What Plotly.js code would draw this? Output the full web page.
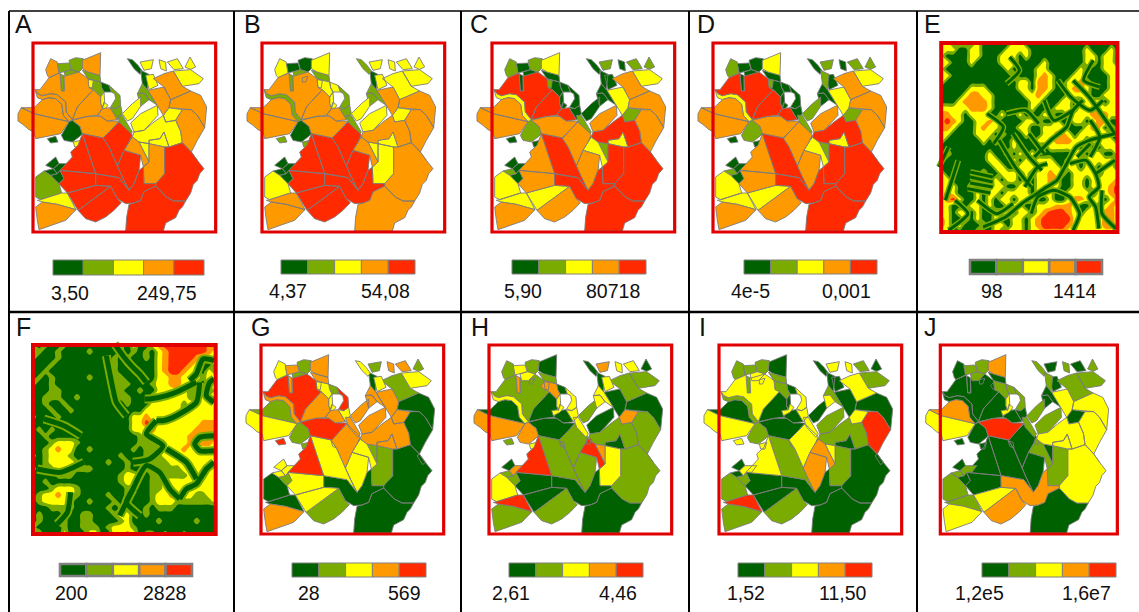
<!DOCTYPE html>
<html><head><meta charset="utf-8">
<script src="https://cdn.plot.ly/plotly-3.0.1.min.js"></script>
<style>html,body{margin:0;padding:0;background:#fff}</style></head>
<body><div id="chart" style="width:1139px;height:612px"></div>
<script>
// ---------- region outlines (map units) ----------
const regionOutlines = [
/*r1*/[52,340,62,322,100,340,205,364,180,400,145,408,105,415,100,395,85,388,70,375,52,362],
/*r2*/[62,322,100,322,115,308,125,298,145,292,165,295,183,312,188,345,205,364,100,340],
/*r3*/[103,268,112,280,125,286,150,280,170,283,195,305,197,335,215,358,205,364,188,345,183,312,165,295,145,292,125,298,110,292],
/*r4*/[103,268,118,268,145,232,178,218,182,272,192,272,190,228,235,215,262,235,265,262,278,268,230,320,215,358,197,335,195,305,170,283,150,280,125,286,112,280],
/*r5*/[278,268,300,290,300,310,305,325,290,345,262,348,215,358,230,320],
/*r6*/[215,360,262,348,300,348,320,362,355,362,310,413,245,400,238,378],
/*r7*/[290,345,305,325,328,322,350,358,320,362,300,348],
/*r9*/[307,413,355,365,395,403,385,425,370,450,350,497,325,440],
/*r10*/[245,400,307,413,325,440,350,497,365,530,385,570,355,532,285,520],
/*r11*/[245,400,285,520,178,510,215,470,210,455,232,435],
/*r12*/[350,497,370,450,420,465,415,510,400,550,385,570,365,530],
/*r13*/[385,425,395,410,415,425,445,485,428,500,420,465,370,450],
/*r14*/[430,550,428,500,445,485,445,430,492,440,492,520,465,550],
/*r15*/[285,520,355,532,385,570,400,550,415,510,428,500,430,550,465,550,465,557,430,574,420,600,400,608,375,610,350,595,330,558,285,555],
/*r16*/[465,550,492,520,492,440,505,440,545,427,572,455,590,480,610,505,597,520,590,540,578,552,570,578,555,602,520,602,497,590,480,572,465,557],
/*r17*/[375,692,378,650,385,612,400,608,420,600,430,574,465,557,480,572,497,590,520,602,555,602,545,620,535,630,525,652,495,668,488,692],
/*r18*/[178,510,285,520,285,555,200,578,175,550,190,535],
/*r19*/[200,578,285,555,330,558,232,630],
/*r20*/[232,630,330,558,350,595,362,607,340,630,315,650,285,665,255,655],
/*r21*/[105,530,130,512,150,525,175,550,183,578,120,598,105,590],
/*r22*/[110,600,120,598,183,578,200,578,226,628,170,612,125,605],
/*r23*/[105,620,125,605,170,612,226,628,195,660,150,675,115,688,110,660],
/*r24a*/[135,495,165,470,175,490,158,505],
/*r24b*/[158,505,175,490,210,490,195,510,178,510,170,520],
/*r24c*/[130,512,158,505,170,520,150,525],
/*r24d*/[150,525,170,520,178,510,190,535,175,550,168,545],
/*r25*/[182,405,205,364,215,360,238,378,245,400,235,410,215,425,190,420],
/*r26*/[140,415,165,408,172,425,150,428],
/*r27*/[218,425,240,420,235,440,222,440],
/*r28*/[245,180,300,157,298,225,262,215,245,205],
/*r29*/[135,208,150,175,170,185,170,190,175,218,145,232,140,225],
/*c1*/[170,190,205,188,212,208,190,215,175,218],
/*c2*/[205,180,225,172,248,175,245,205,235,215,212,208],
/*c3*/[190,215,212,208,235,215,215,235,195,235],
/*c4*/[178,220,190,226,190,272,182,272],
/*c5*/[218,232,235,228,228,245,218,245],
/*k1*/[245,210,262,215,298,225,300,245,270,238,262,235],
/*k2*/[252,250,265,238,278,240,275,262,262,262],
/*k3*/[300,245,325,255,332,275,310,275,303,262],
/*k4*/[325,255,345,275,358,285,360,315,345,325,330,320,345,295,342,280,332,275],
/*k5*/[285,325,305,322,310,305,322,315,310,330,290,340],
/*e32*/[380,175,395,178,412,195,425,212,418,222,400,205],
/*e33*/[418,185,458,178,452,205,430,210],
/*e34*/[420,210,445,222,440,268,425,250],
/*e35*/[475,178,495,185,497,212,480,205],
/*e36*/[500,185,530,175,548,205,520,208],
/*e37*/[553,200,568,170,585,200,570,207],
/*e38*/[518,212,570,208,608,235,595,250,545,258],
/*e39*/[458,235,490,220,518,212,545,258,570,272,510,298,490,260],
/*e40*/[510,298,570,272,600,285,618,320,612,382,590,345,572,328,545,325,505,322],
/*e41*/[545,328,572,328,590,345,612,382,590,420,572,455,545,427,540,393,525,360],
/*e42*/[488,345,505,322,545,328,525,360,495,365],
/*e43*/[400,395,430,390,460,365,488,345,495,365,525,360,540,393,545,427,505,440,490,395,478,415,445,420,445,430,415,425,395,410],
/*e44*/[445,420,478,415,490,395,505,440,492,440,445,430],
/*e45*/[390,368,420,340,470,315,472,345,430,390,400,395],
/*e46*/[365,340,395,310,420,290,420,318,395,355,380,362],
/*e47*/[410,280,430,278,445,298,420,318],
/*e48*/[442,270,490,260,510,298,505,322,488,345,470,315],
/*e49*/[435,225,458,222,472,255,445,268],
/*e50*/[350,345,365,345,395,395,388,405,360,375],
/*e51*/[390,410,405,410,400,425,388,425],
/*e52*/[415,425,445,430,445,485],
/*e53*/[572,455,590,480,582,487,565,460],
/*e54*/[307,415,322,420,325,438,312,432],
/*k6*/[262,235,270,238,300,245,303,262,310,275,300,290,278,268,265,262],
/*k7*/[300,290,310,275,312,305,305,325,300,310],
/*k8*/[328,322,345,325,360,315,365,340,350,358],
/*n1*/[425,250,440,268,442,270,470,315,445,298,430,278,410,280]
];
// ---------- class (1..5) of each region in each map ----------
const classA=[4,4,4,4,4,4,4, 5,5,5,5,4,4,5, 5,5,5,5,5,2,3,4, 1,1,1,1, 1,1,3,4,4, 2,2,2,2,3, 2,3,1,2,3, 1,3,1,3,3,3,3, 4,4,4,3,3,3,3, 3,2,4,3,2,2,3,1,4, 2,3,2,2];
const classB=[4,4,2,4,4,4,4, 5,5,5,5,4,3,5, 4,4,5,5,5,3,4,4, 1,1,1,1, 1,2,2,3,3, 1,1,2,2,4, 2,3,3,2,3, 2,3,1,3,3,3,3, 3,4,4,3,4,3,3, 3,2,4,3,2,2,3,2,4, 3,3,2,2];
const classC=[4,4,3,5,5,4,5, 4,5,4,4,3,5,5, 5,5,4,3,4,3,3,4, 1,1,2,1, 2,1,1,3,2, 1,2,1,1,1, 1,2,1,1,1, 1,2,1,1,2,2,3, 4,4,4,2,5,3,4, 1,1,3,1,2,1,2,2,2, 1,1,1,1];
const classD=[4,4,3,5,5,4,5, 4,5,4,4,3,5,5, 5,5,4,3,4,3,3,4, 1,1,2,1, 2,1,1,3,2, 1,1,1,1,1, 1,2,1,1,1, 1,2,2,1,2,2,3, 4,4,4,2,5,3,4, 2,1,3,1,2,1,2,2,1, 1,1,1,1];
const classG=[3,2,4,5,4,5,4, 4,3,5,3,3,2,1, 1,1,3,3,2,1,1,4, 3,3,3,2, 2,5,2,4,3, 4,2,2,4,2, 4,3,2,5,3, 3,2,1,4,4,2,3, 2,1,1,4,4,4,4, 4,4,4,3,4,2,2,1,3, 3,3,3,4];
const classH=[4,1,3,2,1,1,1, 2,2,5,2,5,3,1, 2,1,1,1,2,3,5,2, 1,4,2,2, 4,2,3,1,2, 3,2,3,4,2, 2,4,1,3,3, 1,4,1,3,3,1,2, 2,1,2,4,2,1,1, 2,3,1,3,3,5,4,1,2, 4,3,3,3];
const classI=[3,1,2,3,1,1,1, 3,2,3,4,4,2,1, 1,1,1,1,2,2,5,2, 1,3,1,2, 2,3,3,1,2, 2,2,3,2,3, 2,1,1,3,3, 1,3,1,3,2,1,2, 3,1,5,3,2,1,2, 1,3,1,1,3,1,3,1,2, 2,1,3,2];
const classJ=[3,4,1,1,1,5,1, 1,1,1,1,2,2,4, 3,1,1,3,4,2,2,3, 1,2,2,1, 1,1,1,4,1, 2,2,2,1,1, 1,1,2,2,3, 2,1,2,2,1,2,2, 2,3,3,1,3,3,2, 2,1,3,1,2,2,1,1,1, 2,3,1,1];

// ---------- raster maps E and F: class read per cell ----------
const gridE=[
"331331311111331111111111111111",
"333113311113333111111111311131",
"311113311133313111111111331331",
"331113111133311113111111331331",
"311111111113111133111113111333",
"331111111111311134311133111133",
"311111111111133144311334311133",
"111113331111133144311344311133",
"111134433111113343111333311333",
"111344443111111331113311333133",
"333334443111111311133313343333",
"443313331131131113311333344433",
"454311334311113331131133134411",
"443111343311133113333111344131",
"331111333131113113344313333411",
"311111131311311133344433133331",
"111111111111311111333331311333",
"131111113113131311111133133113",
"311111113311313133311331333331",
"111111111331133313331331331331",
"311111131133313133433133331333",
"331111131313313133441133133334",
"333113131331133133431133133345",
"343111313313333133311333313345",
"345311313133133311311344333134",
"331113313113331133344431131343",
"331331311333133134555431333443",
"431131311311331345555533333443",
"431311131331331345555433333443",
"331111311313331334444333333333"];
const gridF=[
"212112111111112131134555555544",
"221121111211112121213455555543",
"211121111111121211213455554333",
"111211111111121211113455543113",
"112111111111121121113455433131",
"121211111211122111113344333233",
"211211111111122211123344332133",
"111221111111122112113333322213",
"112221121111122211133333322333",
"112112111111111211133333233333",
"111211211111111111333333233333",
"211121111111111133433333333333",
"111111111111111133543333333444",
"121211111111111133343333334444",
"112111111111111112333333344444",
"111233321111111112223333344443",
"112343311211111121222333433333",
"212333211111112111222333333333",
"112333321111211211222233333333",
"212233322211111211222222333333",
"111122211111112332122222233333",
"112111111111112331122333333333",
"111233321111111211122343333333",
"123343321111211211123343332233",
"123333211211121111123332222223",
"111222211111212111212221111111",
"121112112211123311211111111111",
"121122112211112311112111112111",
"211112112221233321111111111111",
"231113111331133431221211211111"];
// drainage lines visible on the raster maps (map units)
const riversE=[
[387,585,417,565,457,540,487,490,517,440,557,420,637,400],
[387,585,347,610,297,650,227,680],
[497,490,547,480,577,520,587,560,557,590,577,620,587,685],
[577,520,637,480],
[377,640,397,590,447,570,497,590,527,640,507,690],
[597,570,597,640,640,685],
[537,300,507,330,487,380,437,420,387,470],
[507,240,557,290,637,400],
[427,490,397,500,357,560],
[187,515,257,530],[187,530,257,545],[187,548,257,560],[180,565,250,578],
[277,420,327,500,377,560],[320,400,370,470,410,510],[370,400,417,460],
[140,600,180,640,120,690],[210,600,270,640,320,610],
[417,300,447,360,507,330],[460,240,500,290,560,330,600,300],
[560,360,590,410,560,470],[400,370,360,330,300,340],[240,340,290,380,260,430],
[520,470,560,430],[120,440,90,500],[150,480,110,600],
[570,180,540,240,590,260],[310,170,340,210,300,250]
];
const riversF=[
[437,240,417,215,392,190,367,160,342,125],
[587,240,537,265,497,280,447,290,432,290],
[597,240,587,300,527,340,487,355,467,355],
[640,175,607,170,587,215,567,235],
[640,300,617,280,627,240,640,230],
[640,400,597,405,582,425,597,445,640,445],
[640,480,617,500,587,545,557,560,537,590],
[537,590,507,560,477,510,437,490,397,560],
[467,355,437,395,487,430,447,470,397,480],
[497,440,557,480,587,530],
[377,340,347,300,337,260,317,160],
[397,560,377,600,417,640],[397,560,357,640],
[210,570,200,630,170,665],[110,500,180,510,250,480],
[130,350,190,370,240,400]
];

// ---------- labels ----------
const panelLetters=["A","B","C","D","E","F","G","H","I","J"];
const lowLabels=["3,50","4,37","5,90","4e-5","98","200","28","2,61","1,52","1,2e5"];
const highLabels=["249,75","54,08","80718","0,001","1414","2828","569","4,46","11,50","1,6e7"];

// ---------- styling & layout (pixels) ----------
const classColors=["#006100","#7aab00","#ffff00","#ff9900","#ff2a00"];
const W=1139,H=612;
const panels=[
 {fx:33, fy:43, lx:13, ly:24, bar:[53,204,260,275], lo:70, hi:167, ty:293, cls:classA},
 {fx:262,fy:43, lx:242,ly:24, bar:[281,415,260,274],lo:288,hi:385, ty:291, cls:classB},
 {fx:492,fy:43, lx:468,ly:24, bar:[512,646,260,274],lo:523,hi:613, ty:291, cls:classC},
 {fx:713,fy:43, lx:695,ly:24, bar:[744,877,260,274],lo:750,hi:846, ty:291, cls:classD},
 {fx:942,fy:43, lx:922,ly:24, bar:[970,1102,260,274],lo:992,hi:1075,ty:291,grid:gridE,riv:riversE,rw:[6,3],thick:true},
 {fx:33, fy:345,lx:14, ly:327,bar:[60,192,564,576],lo:71, hi:164, ty:593, grid:gridF,riv:riversF,rw:[9,5],thick:true},
 {fx:261,fy:345,lx:249,ly:327,bar:[292,426,563,577],lo:309,hi:404, ty:593, cls:classG},
 {fx:489,fy:345,lx:469,ly:327,bar:[509,643,563,577],lo:511,hi:618, ty:593, cls:classH},
 {fx:719,fy:345,lx:697,ly:327,bar:[738,872,563,577],lo:746,hi:843, ty:593, cls:classI},
 {fx:941,fy:345,lx:922,ly:327,bar:[982,1116,563,577],lo:979,hi:1086,ty:593, cls:classJ}
];
const U0=97,V0=128,UW=548,VH=567,PAD=22;   // map-unit frame; 3 units per pixel
const traces=[],shapes=[],annotations=[],layout={};
const stepScale=[];
classColors.forEach((c,i)=>{stepScale.push([i===0?0:(i-0.5)/4,c]);stepScale.push([i===4?1:(i+0.5)/4,c]);});

panels.forEach((p,i)=>{
  const n=i===0?"":String(i+1);
  const xa="x"+n, ya="y"+n;
  const pxL=p.fx-PAD, pxR=p.fx+183+PAD, pyT=p.fy-PAD, pyB=p.fy+189+PAD;
  layout["xaxis"+n]={domain:[pxL/W,pxR/W],range:[U0-PAD*3,U0+(183+PAD)*3],visible:false,fixedrange:true,anchor:ya};
  layout["yaxis"+n]={domain:[1-pyB/H,1-pyT/H],range:[V0+(189+PAD)*3,V0-PAD*3],visible:false,fixedrange:true,anchor:xa};
  if(p.cls){
    classColors.forEach((col,k)=>{
      const xs=[],ys=[];
      regionOutlines.forEach((o,r)=>{
        if(p.cls[r]!==k+1) return;
        for(let j=0;j<o.length;j+=2){xs.push(o[j]);ys.push(o[j+1]);}
        xs.push(o[0],null);ys.push(o[1],null);
      });
      traces.push({type:"scatter",mode:"lines",x:xs,y:ys,xaxis:xa,yaxis:ya,fill:"toself",fillcolor:col,
        line:{color:"#7c7c7c",width:0.9},hoverinfo:"skip",showlegend:false,connectgaps:false});
    });
  } else {
    const z=p.grid.map(r=>r.split("").map(Number));
    const m=z[0].length,q=z.length;
    traces.push({type:"contour",z:z,xaxis:xa,yaxis:ya,x0:U0,dx:UW/(m-1),y0:V0,dy:VH/(q-1),
      zmin:1,zmax:5,autocontour:false,contours:{start:1.5,end:4.5,size:1,coloring:"fill",showlines:false},
      line:{width:0,smoothing:1},colorscale:stepScale,showscale:false,hoverinfo:"skip"});
    const xs=[],ys=[];
    p.riv.forEach(o=>{for(let j=0;j<o.length;j+=2){xs.push(o[j]);ys.push(o[j+1]);}xs.push(null);ys.push(null);});
    [[classColors[1],p.rw[0]],[classColors[0],p.rw[1]]].forEach(s=>traces.push({type:"scatter",mode:"lines",x:xs,y:ys,xaxis:xa,yaxis:ya,
      line:{color:s[0],width:s[1],shape:"spline",smoothing:0.6},hoverinfo:"skip",showlegend:false}));
  }
  shapes.push({type:"rect",xref:xa,yref:ya,x0:U0,x1:U0+UW,y0:V0,y1:V0+VH,line:{color:"#e10000",width:p.thick?4:3.2},fillcolor:"rgba(0,0,0,0)",layer:"above"});
  const [bx0,bx1,by0,by1]=p.bar;
  classColors.forEach((c,k)=>{
    const w=(bx1-bx0)/5;
    shapes.push({type:"rect",xref:"paper",yref:"paper",x0:(bx0+k*w)/W,x1:(bx0+(k+1)*w)/W,y0:1-by1/H,y1:1-by0/H,
      fillcolor:c,line:{color:"#808080",width:p.thick?2.6:1},layer:"above"});
  });
  const txt=(t,x,y,size,anch)=>annotations.push({text:t,xref:"paper",yref:"paper",x:x/W,y:1-y/H,xanchor:anch,yanchor:"middle",
    showarrow:false,font:{family:"Liberation Sans, Arial, sans-serif",size:size,color:"#111"}});
  txt(panelLetters[i],p.lx,p.ly,25,"left");
  txt(lowLabels[i],p.lo,p.ty,19.5,"center");
  txt(highLabels[i],p.hi,p.ty,19.5,"center");
});
const rule=(x0,y0,x1,y1,w)=>shapes.push({type:"line",xref:"paper",yref:"paper",x0:x0/W,x1:x1/W,y0:1-y0/H,y1:1-y1/H,line:{color:"#000",width:w},layer:"above"});
rule(9,11,W,11,1.6);
rule(9,312,W,312,2.6);
[[9,11,612],[234,11,612],[461,11,612],[689,11,612],[917,11,612]].forEach(v=>rule(v[0],v[1],v[0],v[2],2));

Object.assign(layout,{width:W,height:H,margin:{l:0,r:0,t:0,b:0},paper_bgcolor:"#fff",plot_bgcolor:"rgba(0,0,0,0)",showlegend:false,shapes,annotations});
Plotly.newPlot("chart",traces,layout,{staticPlot:true,displayModeBar:false});
</script></body></html>
